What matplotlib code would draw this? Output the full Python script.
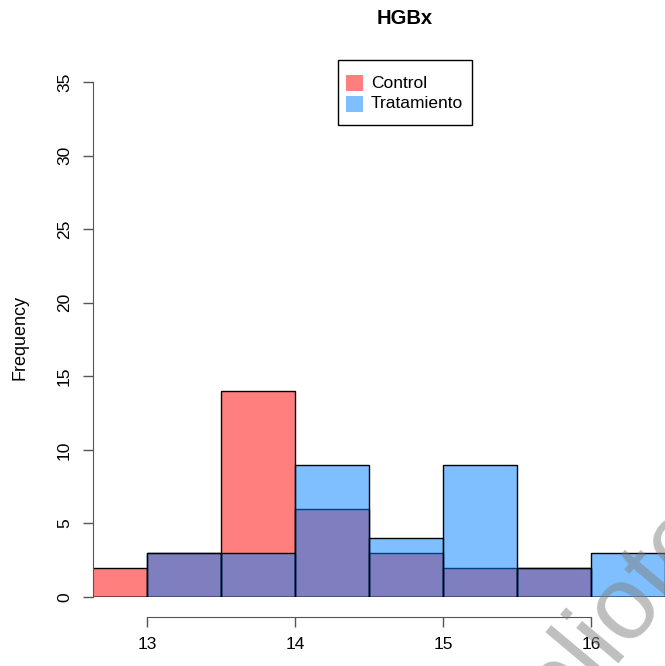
import matplotlib
matplotlib.use("Agg")
import matplotlib.pyplot as plt
from matplotlib.patches import Rectangle
import numpy as np

plt.rcParams['font.family'] = ['Liberation Sans', 'DejaVu Sans']

# bins de 0.5 entre 12.5 y 16.5
bin_edges = [12.5, 13.0, 13.5, 14.0, 14.5, 15.0, 15.5, 16.0, 16.5]
control = [2, 3, 14, 6, 3, 2, 2, 0]
tratamiento = [0, 3, 3, 9, 4, 9, 2, 3]
x_ticks = [13, 14, 15, 16]
y_ticks = [0, 5, 10, 15, 20, 25, 30, 35]
grupos = ['Control', 'Tratamiento']

col_control = (1.0, 0.0, 0.0, 0.5)
col_trat = (0.0, 0.5, 1.0, 0.5)
axis_gray = '#555555'

W, H = 665, 666
fig = plt.figure(figsize=(W / 100, H / 100), dpi=100)
ax = fig.add_axes([93 / W, 1 - 597 / H, 1 - 93 / W, (597 - 82) / H])

lefts = np.array(bin_edges[:-1])
widths = np.diff(bin_edges)
ax.bar(lefts, control, width=widths, align='edge', color=col_control,
       edgecolor='black', linewidth=1.0)
ax.bar(lefts, tratamiento, width=widths, align='edge', color=col_trat,
       edgecolor='black', linewidth=1.0)
ax.axhline(0, color='#aaaaaa', linewidth=1.2, zorder=0.5)

ax.set_xlim(12.635, 16.5)
ax.set_ylim(0, 35)

for s in ['top', 'right']:
    ax.spines[s].set_visible(False)
ax.spines['left'].set_color(axis_gray)
ax.spines['left'].set_bounds(0, 35)
ax.spines['bottom'].set_color(axis_gray)
ax.spines['bottom'].set_position(('outward', 14.4))
ax.spines['bottom'].set_bounds(13, 16)

ax.set_xticks(x_ticks)
ax.set_xticklabels([str(t) for t in x_ticks])
ax.set_yticks(y_ticks)
ax.set_yticklabels([str(t) for t in y_ticks], rotation=90, va='center')
ax.tick_params(axis='both', length=7.2, width=1.0, color=axis_gray,
               labelsize=12.5, labelcolor='black')
ax.tick_params(axis='x', pad=7)
ax.tick_params(axis='y', pad=8)

fig.text(405 / W, 1 - 18 / H, 'HGBx', ha='center', va='center',
         fontsize=14.5, fontweight='bold')
fig.text(20 / W, 1 - 338 / H, 'Frequency', ha='center', va='center',
         rotation=90, fontsize=13)

# leyenda estilo R (caja en pixeles de la figura)
def px(x, y):
    return x / W, 1 - y / H

fig.patches.append(Rectangle(px(338, 125), 134 / W, 65 / H, transform=fig.transFigure,
                             facecolor='white', edgecolor='black', linewidth=1.0))
for i, (lab, col) in enumerate(zip(grupos, [col_control, col_trat])):
    yc = 83 + 21 * i
    fig.patches.append(Rectangle(px(346, yc + 8), 17 / W, 16 / H,
                                 transform=fig.transFigure, facecolor=col,
                                 edgecolor='none'))
    fig.text(*px(371, yc), lab, ha='left', va='center', fontsize=12.5)

# marca de agua
fig.text(628 / W, 1 - 600 / H, 'biblioteca', ha='center', va='center',
         rotation=50, fontsize=75, color='#808080', alpha=0.5)

fig.savefig('out.png', dpi=100)
